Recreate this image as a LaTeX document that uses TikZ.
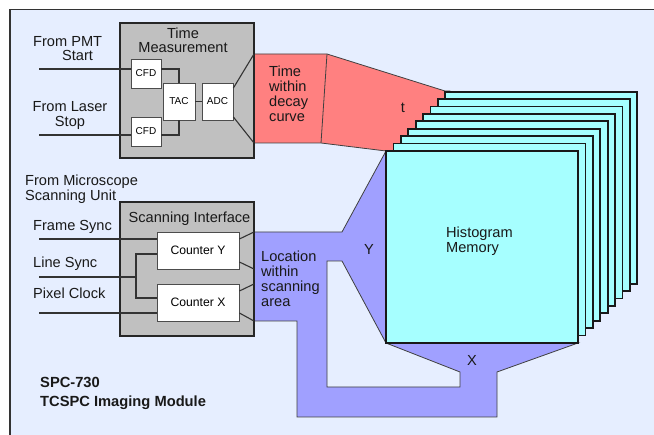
\documentclass[tikz,border=0pt]{standalone}
\usepackage{fontspec}
\setmainfont{Liberation Sans}
\definecolor{panelbg}{HTML}{E6EEFF}
\definecolor{unitgray}{HTML}{C0C0C0}
\definecolor{timered}{HTML}{FF8080}
\definecolor{histcyan}{HTML}{A6FFFF}
\definecolor{locblue}{HTML}{A0A0FF}
\begin{document}
\begin{tikzpicture}[x=1pt,y=-1pt,
    unitbox/.style={draw=black!85, line width=2pt, fill=unitgray, inner sep=0pt},
    blockbox/.style={draw=black!70, line width=0.8pt, fill=white, inner sep=0pt, font=\fontsize{10}{10}\selectfont},
    cntbox/.style={blockbox, minimum width=82pt, minimum height=37pt, font=\fontsize{12.2}{12}\selectfont},
    wire/.style={draw=black!80, line width=1.1pt},
    lbl/.style={inner sep=0pt, font=\fontsize{14.6}{15}\selectfont, text=black!90},
    memplane/.style={draw=black!90, line width=1.8pt, fill=histcyan}
  ]
  % background panel
  \useasboundingbox (0,0) rectangle (654,435);
  \fill[panelbg] (10,9.5) rectangle (654,435);
  \draw[black!80, line width=1.5pt] (10,435) -- (10,9.5) -- (654,9.5);

  % location path (blue) with hole
  \path[fill=locblue, draw=black!75, line width=0.8pt, even odd rule]
    (254,232) -- (342,232) -- (386,151) -- (386,343) -- (578,343) -- (497,372)
    -- (497,417) -- (297,417) -- (297,321) -- (254,321) -- cycle
    (327,261) -- (342,261) -- (386,343) -- (460,372) -- (460,387) -- (327,387) -- cycle;

  % time path (red)
  \draw[fill=timered, draw=black!75, line width=0.8pt]
    (254,54) -- (327,54) -- (445,91) -- (450,91) -- (450,151) -- (386,151)
    -- (321,143) -- (254,143) -- cycle;
  \draw[black!75, line width=0.8pt] (327,54) -- (321,143);

  % histogram memory planes
  \foreach \k in {8,7,...,0}
    \draw[memplane] (386+7.4*\k,151-7.4*\k) rectangle ++(192,192);

  % time measurement unit
  \node[unitbox, minimum width=134pt, minimum height=135pt] (tmeas) at (187,90.5) {};
  \node[lbl, align=center, font=\fontsize{14.6}{14}\selectfont] (tmeastitle) at (183,40.5) {Time\\Measurement};
  \node[blockbox, minimum width=30pt, minimum height=29pt] (cfdA) at (146,73.5) {CFD};
  \node[blockbox, minimum width=30pt, minimum height=29pt] (cfdB) at (146,131.5) {CFD};
  \node[blockbox, minimum width=32pt, minimum height=37pt] (tac) at (179,101.5) {TAC};
  \node[blockbox, minimum width=31pt, minimum height=37pt] (adc) at (217.5,101.5) {ADC};

  % scanning interface unit
  \node[unitbox, minimum width=134pt, minimum height=134pt] (scan) at (187,269) {};
  \node[lbl] (scantitle) at (189.5,219) {Scanning Interface};
  \node[cntbox] (cntY) at (198,250.5) {Counter Y};
  \node[cntbox] (cntX) at (198,302.5) {Counter X};

  % signal ends
  \coordinate (pmtin) at (39,69);
  \coordinate (laserin) at (39,135);
  \coordinate (framein) at (39,239);
  \coordinate (linein) at (39,277);
  \coordinate (pixelin) at (39,313);
  \coordinate (lnjoin) at (136,277);
  \coordinate (tA) at (254,54);
  \coordinate (tB) at (254,143);
  \coordinate (yA) at (254,232);
  \coordinate (yB) at (254,269);
  \coordinate (xA) at (254,284);
  \coordinate (xB) at (254,321);

  \draw[wire] (pmtin) -- (pmtin -| cfdA.west);
  \draw[wire] (pmtin -| cfdA.east) -| (tac.north);
  \draw[wire] (laserin) -- (laserin -| cfdB.west);
  \draw[wire] (laserin -| cfdB.east) -| (tac.south);
  \draw[wire] (tac) -- (adc);
  \draw[wire] ([yshift=13.5pt]adc.east) -- (tA);
  \draw[wire] ([yshift=-15.5pt]adc.east) -- (tB);

  \draw[wire] (framein) -- (framein -| cntY.west);
  \draw[wire] (pixelin) -- (pixelin -| cntX.west);
  \draw[wire] (linein) -- (lnjoin);
  \draw[wire] ([yshift=-3.5pt]cntY.west) -| (lnjoin) |- ([yshift=4.5pt]cntX.west);
  \draw[wire] ([yshift=11.5pt]cntY.east) -- (yA);
  \draw[wire] ([yshift=-11.5pt]cntY.east) -- (yB);
  \draw[wire] ([yshift=11.5pt]cntX.east) -- (xA);
  \draw[wire] ([yshift=-10.5pt]cntX.east) -- (xB);

  % labels
  \node[lbl, align=left, anchor=west, font=\fontsize{14.6}{14}\selectfont] (pmtlbl) at (33,49) {From PMT\\\hspace*{29pt}Start};
  \node[lbl, align=center] (laserlbl) at (70,115.5) {From Laser\\Stop};
  \node[lbl, align=left, anchor=west] (timelbl) at (269,93.5) {Time\\within\\decay\\curve};
  \node[lbl] (tlbl) at (403,108) {t};
  \node[lbl, align=left, anchor=west] (micro) at (25,189.5) {From Microscope\\Scanning Unit};
  \node[lbl, anchor=west] (framelbl) at (33,227) {Frame Sync};
  \node[lbl, anchor=west] (linelbl) at (33,264) {Line Sync};
  \node[lbl, anchor=west] (pixellbl) at (33,293) {Pixel Clock};
  \node[lbl, align=left, anchor=west] (loclbl) at (261,278.5) {Location\\within\\scanning\\area};
  \node[lbl] (ylbl) at (369,249) {Y};
  \node[lbl] (xlbl) at (472,360) {X};
  \node[lbl, align=left, anchor=west] (histlbl) at (446,241.5) {Histogram\\Memory};
  \node[lbl, anchor=west, font=\fontsize{14.7}{15}\bfseries] (spclbl) at (40,382) {SPC-730};
  \node[lbl, anchor=west, font=\fontsize{14.7}{15}\bfseries] (modlbl) at (40,403) {TCSPC Imaging Module};
\end{tikzpicture}
\end{document}
